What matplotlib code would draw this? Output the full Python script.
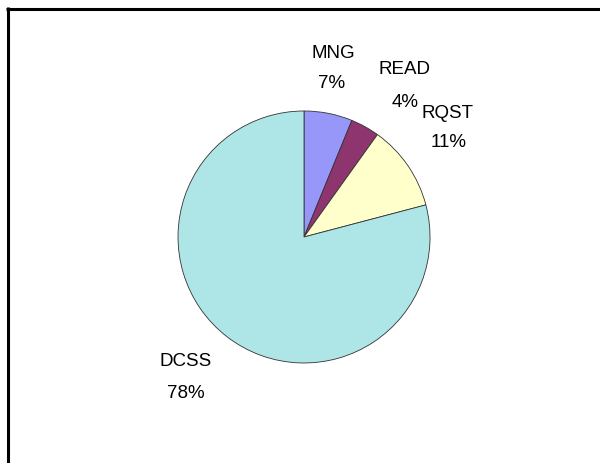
import matplotlib.pyplot as plt
from matplotlib.lines import Line2D

categories = ['MNG', 'READ', 'RQST', 'DCSS']
values = [6.2, 3.7, 11.0, 79.1]
pct_labels = ['7%', '4%', '11%', '78%']
colors = ['#9797FA', '#8E3570', '#FFFFCC', '#AEE5E6']

# label anchor points (name, percent), in pie-radius units
name_pos = [(0.23, 1.46), (0.80, 1.33), (1.14, 0.98), (-0.94, -0.99)]
pct_pos = [(0.22, 1.22), (0.80, 1.07), (1.15, 0.75), (-0.94, -1.24)]

plt.rcParams['font.family'] = ['Liberation Sans', 'DejaVu Sans']

fig = plt.figure(figsize=(6, 4.63), dpi=100)
ax = fig.add_axes([0.2967, 0.2160, 0.42, 0.5443])

ax.pie(values, colors=colors, startangle=90, counterclock=False,
       wedgeprops=dict(edgecolor='#333333', linewidth=0.6))
ax.set_xlim(-1, 1)
ax.set_ylim(-1, 1)
ax.set_aspect('equal')
ax.axis('off')

for name, pct, (nx, ny), (px, py) in zip(categories, pct_labels, name_pos, pct_pos):
    ax.text(nx, ny, name, ha='center', va='center', fontsize=13.5, clip_on=False)
    ax.text(px, py, pct, ha='center', va='center', fontsize=13.5, clip_on=False)

# chart area border (only top and left visible in the crop)
fig.add_artist(Line2D([6 / 600, 1], [1 - 8.5 / 463] * 2, transform=fig.transFigure,
                      color='black', linewidth=2.2, solid_capstyle='butt'))
fig.add_artist(Line2D([7.5 / 600] * 2, [0, 1 - 7 / 463], transform=fig.transFigure,
                      color='black', linewidth=2.2, solid_capstyle='butt'))

fig.savefig('out.png', dpi=100)
